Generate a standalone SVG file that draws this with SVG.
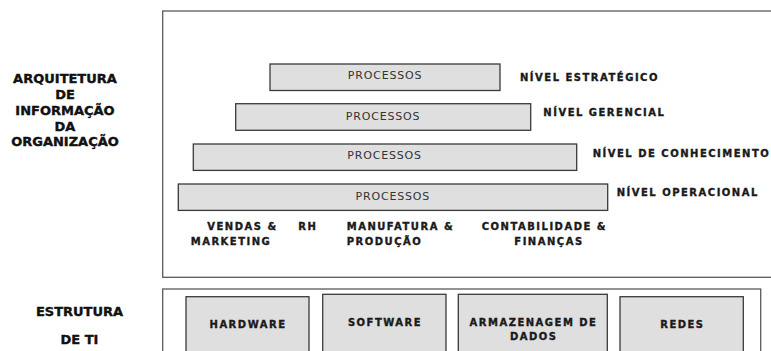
<svg xmlns="http://www.w3.org/2000/svg" width="771" height="351" viewBox="0 0 771 351">
  <style>
    .frame { fill: #ffffff; stroke: #5a5a5a; stroke-width: 1.3; }
    .bar { fill: #dfdfdf; stroke: #3a3a3a; stroke-width: 1.3; }
    .box { fill: #dfdfdf; stroke: #3a3a3a; stroke-width: 1.3; }
    .proc { font-family: "DejaVu Sans", Verdana, sans-serif; font-size: 11px; fill: #333333; letter-spacing: 0.8px; text-anchor: middle; }
    .lvl { font-family: "DejaVu Sans", Verdana, sans-serif; font-size: 10px; font-weight: bold; fill: #1a1a1a; stroke: #1a1a1a; stroke-width: 0.35; letter-spacing: 1.5px; }
    .mid { text-anchor: middle; }
    .side { font-family: "DejaVu Sans", Verdana, sans-serif; font-size: 13px; font-weight: bold; fill: #111111; stroke: #111111; stroke-width: 0.4; text-anchor: middle; }
  </style>
  <rect width="771" height="351" fill="#ffffff"/>

  <g id="arquitetura-frame">
    <rect class="frame" x="162.7" y="11" width="620" height="266.3"/>
  </g>
  <g id="ti-frame">
    <rect class="frame" x="162.7" y="289" width="598" height="80"/>
  </g>

  <g id="label-arquitetura">
    <text class="side" x="65" y="83.3">ARQUITETURA</text>
    <text class="side" x="65" y="99.3">DE</text>
    <text class="side" x="65" y="115">INFORMAÇÃO</text>
    <text class="side" x="65" y="130.7">DA</text>
    <text class="side" x="65" y="146">ORGANIZAÇÃO</text>
  </g>
  <g id="label-estrutura">
    <text class="side" x="79.5" y="316">ESTRUTURA</text>
    <text class="side" x="79.5" y="344">DE TI</text>
  </g>

  <g id="nivel-estrategico">
    <rect class="bar" x="270" y="64" width="230" height="26.5"/>
    <text class="proc" x="385" y="79">PROCESSOS</text>
    <text class="lvl" x="520" y="80.5">NÍVEL ESTRATÉGICO</text>
  </g>
  <g id="nivel-gerencial">
    <rect class="bar" x="235.7" y="103.7" width="295" height="26.6"/>
    <text class="proc" x="383" y="120">PROCESSOS</text>
    <text class="lvl" x="543.3" y="116">NÍVEL GERENCIAL</text>
  </g>
  <g id="nivel-conhecimento">
    <rect class="bar" x="193.3" y="144" width="383.4" height="26.4"/>
    <text class="proc" x="384.5" y="159">PROCESSOS</text>
    <text class="lvl" x="592.7" y="157.3">NÍVEL DE CONHECIMENTO</text>
  </g>
  <g id="nivel-operacional">
    <rect class="bar" x="178.3" y="184" width="429.4" height="26.4"/>
    <text class="proc" x="392.8" y="200">PROCESSOS</text>
    <text class="lvl" x="616.7" y="196">NÍVEL OPERACIONAL</text>
  </g>

  <g id="area-vendas">
    <text class="lvl" x="207.3" y="230">VENDAS &amp;</text>
    <text class="lvl" x="190.7" y="245">MARKETING</text>
  </g>
  <g id="area-rh">
    <text class="lvl" x="298.3" y="230">RH</text>
  </g>
  <g id="area-manufatura">
    <text class="lvl" x="346.7" y="230">MANUFATURA &amp;</text>
    <text class="lvl" x="346.7" y="245">PRODUÇÃO</text>
  </g>
  <g id="area-contabilidade">
    <text class="lvl" x="481.7" y="230">CONTABILIDADE &amp;</text>
    <text class="lvl" x="514.3" y="245">FINANÇAS</text>
  </g>

  <g id="hardware">
    <rect class="box" x="186" y="296.7" width="123" height="70"/>
    <text class="lvl mid" x="248" y="328.3">HARDWARE</text>
  </g>
  <g id="software">
    <rect class="box" x="322.7" y="294.3" width="123.3" height="70"/>
    <text class="lvl mid" x="385" y="325.7">SOFTWARE</text>
  </g>
  <g id="armazenagem">
    <rect class="box" x="458.3" y="294.3" width="149" height="70"/>
    <text class="lvl mid" x="533.5" y="325.7">ARMAZENAGEM DE</text>
    <text class="lvl mid" x="533.7" y="340">DADOS</text>
  </g>
  <g id="redes">
    <rect class="box" x="620" y="296.7" width="123.3" height="70"/>
    <text class="lvl mid" x="682.4" y="327.7">REDES</text>
  </g>
</svg>
